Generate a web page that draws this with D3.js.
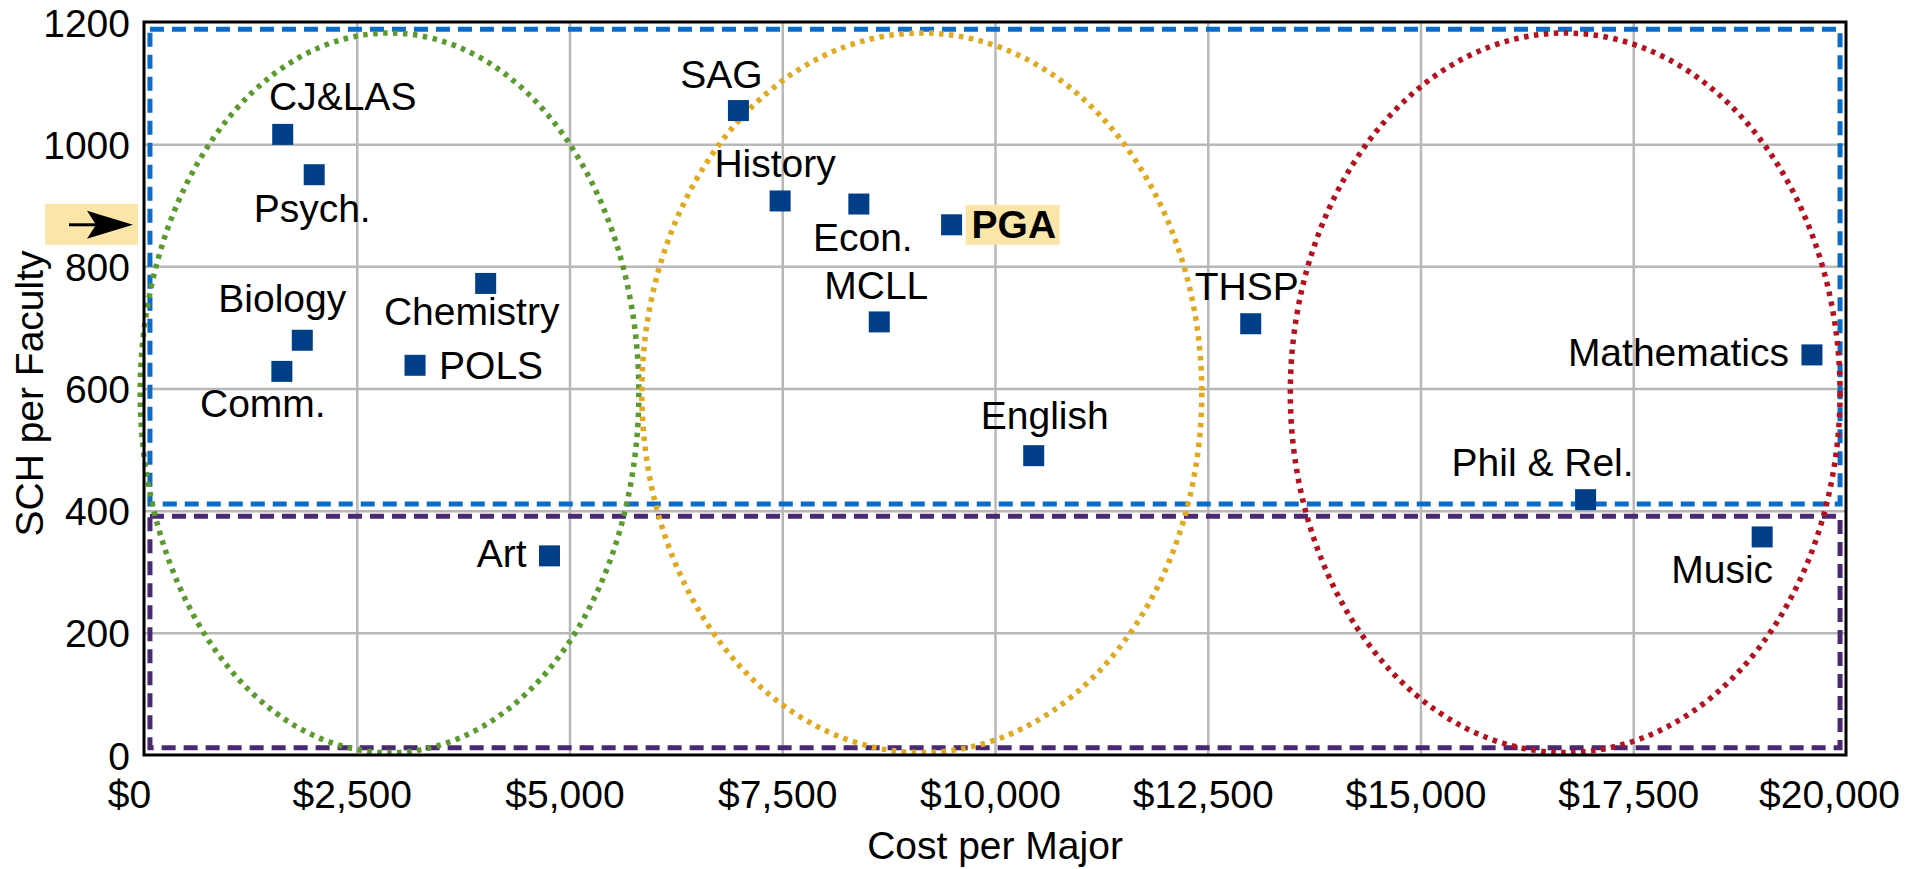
<!DOCTYPE html>
<html>
<head>
<meta charset="utf-8">
<script src="https://cdn.jsdelivr.net/npm/d3@7"></script>
<style>
  body { margin: 0; background: #fff; }
  text { font-family: "Liberation Sans", Arial, Helvetica, sans-serif; }
</style>
</head>
<body>
<div id="chart-area"></div>
<script>
// departments
var depts = ['CJ&LAS', 'Psych.', 'Biology', 'Comm.', 'Chemistry', 'POLS', 'Art',
	'SAG', 'History', 'Econ.', 'PGA', 'MCLL', 'English', 'THSP',
	'Phil & Rel.', 'Mathematics', 'Music'];
var costPerMajor = [1630, 2000, 1860, 1620, 4015, 3185, 4765,
	6985, 7475, 8400, 9490, 8640, 10455, 13005,
	16940, 19600, 19015];
var schPerFaculty = [1016, 950, 679, 628, 772, 638, 326,
	1055, 907, 902, 868, 709, 490, 706,
	418, 655, 357];

var xTicks = [0, 2500, 5000, 7500, 10000, 12500, 15000, 17500, 20000];
var yTicks = [0, 200, 400, 600, 800, 1000, 1200];

// cost clusters (ellipses) and SCH bands (boxes), in data units
var clusterCx = [2885, 9140, 16700];
var clusterRx = [2930, 3290, 3230];
var clusterCy = [593, 593, 593];
var clusterRy = [589, 589, 589];
var bandTop = [1188, 391];
var bandBottom = [411, 12];
var bandLeft = [70, 70];
var bandRight = [19930, 19930];

var highlight = 'PGA';

// label placement around each square: anchor, dx, dy(baseline)
var labelPos = {
	'CJ&LAS': ['middle', 60, -24],
	'Psych.': ['middle', -2, 47],
	'Biology': ['middle', -20, -28],
	'Comm.': ['middle', -19, 46],
	'Chemistry': ['middle', -14, 42],
	'POLS': ['start', 24, 14],
	'Art': ['end', -23, 11],
	'SAG': ['middle', -17, -23],
	'History': ['middle', -5, -24],
	'Econ.': ['middle', 4, 47],
	'PGA': ['start', 20, 13],
	'MCLL': ['middle', -3, -23],
	'THSP': ['middle', -4, -24],
	'English': ['middle', 11, -27],
	'Mathematics': ['end', -23, 11],
	'Phil & Rel.': ['middle', -43, -24],
	'Music': ['middle', -40, 46]
};

var margin = { top: 22, right: 63, bottom: 114, left: 144 },
	width = 1909 - margin.left - margin.right,
	height = 869 - margin.top - margin.bottom;

var fontSize = 39;

var svg = d3.select('#chart-area')
	.append('svg')
		.attr('width', 1909)
		.attr('height', 869);

var g = svg.append('g')
	.attr('transform', 'translate(' + margin.left + ', ' + margin.top + ')');

var x = d3.scaleLinear().domain([0, 20000]).range([0, width]);
var y = d3.scaleLinear().domain([0, 1200]).range([height, 0]);

// gridlines
g.append('g')
	.attr('class', 'x-grid')
	.attr('transform', 'translate(0, ' + height + ')')
	.call(d3.axisBottom(x).tickValues(xTicks.slice(1, -1)).tickSize(-height).tickFormat(''))
	.call(a => a.select('.domain').remove())
	.selectAll('line').attr('stroke', '#b8b8b8').attr('stroke-width', 2.5);

g.append('g')
	.attr('class', 'y-grid')
	.call(d3.axisLeft(y).tickValues(yTicks.slice(1, -1)).tickSize(-width).tickFormat(''))
	.call(a => a.select('.domain').remove())
	.selectAll('line').attr('stroke', '#b8b8b8').attr('stroke-width', 2.5);

// axes labels
var xAxis = g.append('g')
	.attr('transform', 'translate(0, ' + height + ')')
	.call(d3.axisBottom(x).tickValues(xTicks).tickSize(0).tickPadding(0).tickFormat(d3.format('$,')));
xAxis.select('.domain').remove();
xAxis.selectAll('text')
	.attr('font-size', fontSize)
	.attr('font-family', '"Liberation Sans", Arial, sans-serif')
	.attr('fill', '#000')
	.attr('y', 53)
	.attr('dy', 0)
	.attr('dx', (d, i) => i === 0 ? -15 : (i === xTicks.length - 1 ? -17 : -5));

var yAxis = g.append('g')
	.call(d3.axisLeft(y).tickValues(yTicks).tickSize(0).tickPadding(14).tickFormat(d3.format('d')));
yAxis.select('.domain').remove();
yAxis.selectAll('text')
	.attr('font-size', fontSize)
	.attr('font-family', '"Liberation Sans", Arial, sans-serif')
	.attr('fill', '#000')
	.attr('dy', '0.36em');

g.append('text')
	.attr('x', width / 2)
	.attr('y', height + 104)
	.attr('text-anchor', 'middle')
	.attr('font-size', fontSize)
	.text('Cost per Major');

g.append('text')
	.attr('x', -height / 2 - 5)
	.attr('y', -margin.left + 43)
	.attr('transform', 'rotate(-90)')
	.attr('text-anchor', 'middle')
	.attr('font-size', fontSize)
	.text('SCH per Faculty');

// SCH bands
var bandColors = ['#0a6bc9', '#4b2872'];
bandTop.forEach((top, i) => {
	g.append('rect')
		.attr('x', x(bandLeft[i]))
		.attr('y', y(top))
		.attr('width', x(bandRight[i]) - x(bandLeft[i]))
		.attr('height', y(bandBottom[i]) - y(top))
		.attr('fill', 'none')
		.attr('stroke', bandColors[i])
		.attr('stroke-width', 5)
		.attr('stroke-dasharray', '14 8');
});

// cost clusters
var clusterColors = ['#5b9a2e', '#e0a922', '#b3121f'];
g.selectAll('ellipse.cluster')
	.data(clusterCx)
	.enter().append('ellipse')
		.attr('class', 'cluster')
		.attr('cx', (d, i) => x(d))
		.attr('cy', (d, i) => y(clusterCy[i]))
		.attr('rx', (d, i) => x(clusterRx[i]) - x(0))
		.attr('ry', (d, i) => y(0) - y(clusterRy[i]))
		.attr('fill', 'none')
		.attr('stroke', (d, i) => clusterColors[i])
		.attr('stroke-width', 5.5)
		.attr('stroke-dasharray', '4.5 5.5');

// frame
g.append('rect')
	.attr('width', width)
	.attr('height', height)
	.attr('fill', 'none')
	.attr('stroke', '#000')
	.attr('stroke-width', 3);

// points
var size = 21;
g.selectAll('rect.pt')
	.data(depts)
	.enter().append('rect')
		.attr('class', 'pt')
		.attr('x', (d, i) => x(costPerMajor[i]) - size / 2)
		.attr('y', (d, i) => y(schPerFaculty[i]) - size / 2)
		.attr('width', size)
		.attr('height', size)
		.attr('fill', '#003f87');

// highlight box behind PGA label
var hi = depts.indexOf(highlight);
var hx = x(costPerMajor[hi]), hy = y(schPerFaculty[hi]);
g.append('rect')
	.attr('x', hx + 14)
	.attr('y', hy - 20)
	.attr('width', 94)
	.attr('height', 40)
	.attr('fill', '#fce5a9');

g.selectAll('text.lbl')
	.data(depts)
	.enter().append('text')
		.attr('class', 'lbl')
		.attr('x', (d, i) => x(costPerMajor[i]) + labelPos[d][1])
		.attr('y', (d, i) => y(schPerFaculty[i]) + labelPos[d][2])
		.attr('text-anchor', d => labelPos[d][0])
		.attr('font-size', fontSize)
		.attr('font-weight', d => d === highlight ? 'bold' : 'normal')
		.text(d => d);

// arrow on the y axis pointing at PGA's level
var arrow = svg.append('g')
	.attr('transform', 'translate(0, ' + (margin.top + hy) + ')');
arrow.append('rect')
	.attr('x', 45).attr('y', -21)
	.attr('width', 93).attr('height', 41)
	.attr('fill', '#fce5a9');
arrow.append('line')
	.attr('x1', 69).attr('x2', 100)
	.attr('y1', 0).attr('y2', 0)
	.attr('stroke', '#000').attr('stroke-width', 3);
arrow.append('path')
	.attr('d', 'M133,0 L87,-14 L96,0 L87,14 Z')
	.attr('fill', '#000');
</script>
</body>
</html>
